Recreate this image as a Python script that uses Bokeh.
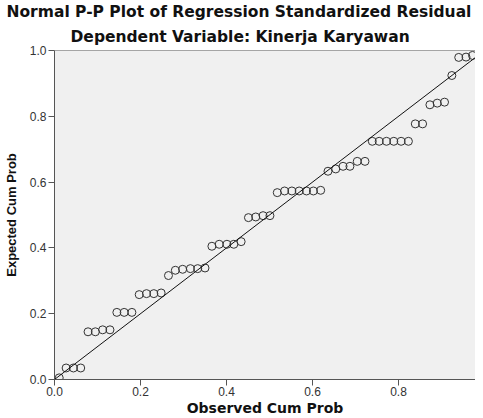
from bokeh.plotting import figure
from bokeh.models import Range1d, Title, FixedTicker, Span, Slope, NumeralTickFormatter
from bokeh.embed import file_html
from bokeh.resources import INLINE

title_main = "Normal P-P Plot of Regression Standardized Residual"
title_sub = "Dependent Variable: Kinerja Karyawan"
x_label = "Observed Cum Prob"
y_label = "Expected Cum Prob"
tick_values = [0.0, 0.2, 0.4, 0.6, 0.8, 1.0]

observed_cum_prob = [0.011, 0.027, 0.044, 0.061, 0.078, 0.095, 0.112, 0.129,
                     0.145, 0.162, 0.180, 0.197, 0.214, 0.231, 0.248, 0.265,
                     0.281, 0.298, 0.316, 0.333, 0.350, 0.366, 0.383, 0.401,
                     0.417, 0.434, 0.451, 0.468, 0.485, 0.501, 0.518, 0.535,
                     0.552, 0.569, 0.586, 0.602, 0.619, 0.636, 0.654, 0.671,
                     0.687, 0.704, 0.722, 0.739, 0.755, 0.772, 0.789, 0.806,
                     0.823, 0.839, 0.856, 0.873, 0.890, 0.907, 0.924, 0.940,
                     0.957, 0.972]
expected_cum_prob = [0.005, 0.035, 0.035, 0.035, 0.145, 0.145, 0.151, 0.151,
                     0.204, 0.204, 0.204, 0.258, 0.261, 0.261, 0.263, 0.316,
                     0.332, 0.335, 0.337, 0.337, 0.339, 0.405, 0.411, 0.411,
                     0.411, 0.419, 0.492, 0.494, 0.498, 0.498, 0.568, 0.573,
                     0.573, 0.573, 0.573, 0.573, 0.575, 0.633, 0.640, 0.648,
                     0.648, 0.663, 0.663, 0.724, 0.724, 0.724, 0.724, 0.724,
                     0.724, 0.777, 0.777, 0.835, 0.840, 0.843, 0.924, 0.979,
                     0.980, 0.985]

p = figure(width=475, height=418, output_backend="svg", toolbar_location=None,
           x_range=Range1d(0, 0.979), y_range=Range1d(0, 1.0),
           min_border_left=48, min_border_right=0, min_border_top=49,
           min_border_bottom=38)

p.title.text = title_main
p.title.text_font = "DejaVu Sans"
p.title.text_font_size = "15.5px"
p.title.text_font_style = "bold"
p.title.text_color = "#111111"
p.title.align = "left"
p.title.offset = -48
p.title.standoff = 0

sub = Title(text=title_sub, text_font="DejaVu Sans", text_font_size="15.5px",
            text_font_style="bold", text_color="#111111", align="left",
            offset=16, standoff=10)
p.add_layout(sub, "above")

p.background_fill_color = "#f0f0f0"
p.border_fill_color = "white"
p.outline_line_color = None
p.grid.visible = False

for ax in (p.xaxis[0], p.yaxis[0]):
    ax.ticker = FixedTicker(ticks=tick_values)
    ax.formatter = NumeralTickFormatter(format="0.0")
    ax.minor_tick_line_color = None
    ax.major_tick_in = 0
    ax.major_tick_out = 6
    ax.axis_line_color = "#555555"
    ax.major_tick_line_color = "#555555"
    ax.major_label_text_font = "Liberation Sans"
    ax.major_label_text_font_size = "12px"
    ax.major_label_text_color = "#333333"
    ax.major_label_standoff = 2
    ax.axis_label_text_font_style = "bold"
    ax.axis_label_text_color = "#111111"

p.xaxis[0].major_label_standoff = 1
p.xaxis[0].axis_label = x_label
p.xaxis[0].axis_label_text_font = "DejaVu Sans"
p.xaxis[0].axis_label_text_font_size = "14px"
p.xaxis[0].axis_label_standoff = 1

p.yaxis[0].axis_label = y_label
p.yaxis[0].axis_label_text_font = "Liberation Sans"
p.yaxis[0].axis_label_text_font_size = "13px"
p.yaxis[0].axis_label_standoff = 8

p.add_layout(Span(location=1.0, dimension="width", line_color="#555555", line_width=1))
p.add_layout(Slope(gradient=1, y_intercept=0, line_color="#111111", line_width=1))

p.scatter(observed_cum_prob, expected_cum_prob, marker="circle", size=8,
          fill_color=None, line_color="#333333", line_width=1)

open("out.html", "w").write(file_html(p, INLINE))
